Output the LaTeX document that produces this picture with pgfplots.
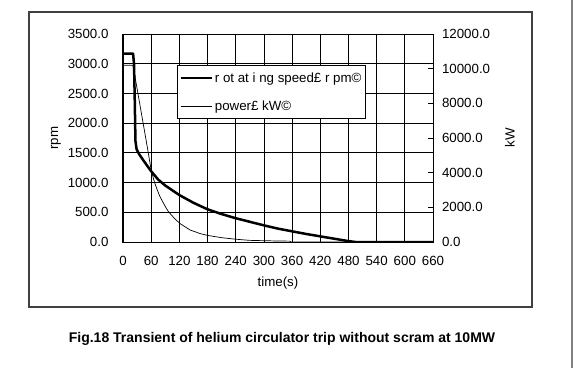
\documentclass[border=0pt]{standalone}
\usepackage{pgfplots}
\pgfplotsset{compat=1.18}
\usepackage{pgfplotstable}
\usepackage{fontspec}
\setmainfont{Liberation Sans}

\pgfplotstableread{
t rpm
0 3170
21.5 3170
23.5 2990
25 2400
26.5 1700
29 1560
35 1470
42 1390
50 1300
60 1190
75 1050
90 950
105 870
120 790
150 660
180 550
210 470
240 400
270 340
300 280
330 225
360 180
390 135
420 95
450 55
480 15
495 0
660 0
}\rpmdata

\pgfplotstableread{
t kw
0 10200
21 10200
30 8850
40 7300
50 5750
60 4150
67 3450
73 3000
79 2600
90 2050
97 1740
110 1350
121 1070
143 690
165 480
180 380
210 250
240 160
270 95
300 75
330 58
355 50
358 0
660 0
}\kwdata

\newcommand{\tfont}{\fontsize{13.3}{15}\selectfont}

\begin{document}
\begin{tikzpicture}
\path[use as bounding box] (-123pt,-126pt) rectangle (452pt,242pt);
\draw[black!75, line width=1.5pt] (-94pt,-65pt) rectangle (409pt,230pt);
\draw[gray, line width=1.2pt] (449pt,-126pt) -- (449pt,242pt);

\begin{axis}[
  scale only axis, width=310pt, height=208pt,
  xmin=0, xmax=660, ymin=0, ymax=3500,
  xtick={0,60,...,660}, ytick={0,500,...,3500},
  scaled ticks=false,
  grid=major, major grid style={black, line width=0.8pt},
  axis line style={black, line width=1pt},
  major tick length=0pt,
  /pgf/number format/assume math mode=true,
  yticklabel style={/pgf/number format/fixed, /pgf/number format/fixed zerofill,
    /pgf/number format/precision=1, /pgf/number format/1000 sep={}, xshift=-11pt},
  xticklabel style={yshift=-10.5pt},
  tick label style={font=\tfont},
  label style={font=\tfont},
  xlabel={time(s)}, ylabel={rpm},
  xlabel style={at={(axis description cs:0.5,-0.196)}, anchor=center},
  ylabel style={at={(axis description cs:-0.216,0.5)}, anchor=center},
]
\addplot[black, line width=2.5pt, line join=round] table[x=t, y=rpm] {\rpmdata};
\end{axis}

\begin{axis}[
  scale only axis, width=310pt, height=208pt,
  xmin=0, xmax=660, ymin=0, ymax=12000,
  axis x line=none, axis y line*=right,
  y axis line style={-, black, line width=1pt},
  ytick={0,2000,...,12000},
  scaled y ticks=false,
  tick align=inside, major tick length=5pt,
  ytick style={black, line width=0.8pt},
  /pgf/number format/assume math mode=true,
  yticklabel style={/pgf/number format/fixed, /pgf/number format/fixed zerofill,
    /pgf/number format/precision=1, /pgf/number format/1000 sep={}, xshift=5.5pt},
  tick label style={font=\tfont},
  label style={font=\tfont},
  ylabel={kW},
  ylabel style={at={(axis description cs:1.248,0.5)}, anchor=center},
  legend style={at={(axis description cs:0.174,0.851)}, anchor=north west,
    draw=black, line width=1pt, fill=white, font=\tfont,
    row sep=13pt, inner xsep=2pt, inner ysep=5pt, cells={anchor=west}},
  legend image code/.code={\draw[#1] (0pt,0pt) -- (31pt,0pt);},
]
\addlegendimage{black, line width=2.5pt}
\addlegendentry{r ot at i ng\ speed£ r pm©}
\addplot[black, line width=0.7pt, line join=round] table[x=t, y=kw] {\kwdata};
\addlegendentry{power£ kW©}
\end{axis}

\node[font=\bfseries\fontsize{14}{16}\selectfont] at (159pt,-97pt)
  {Fig.18 Transient of helium circulator trip without scram at 10MW};
\end{tikzpicture}
\end{document}
